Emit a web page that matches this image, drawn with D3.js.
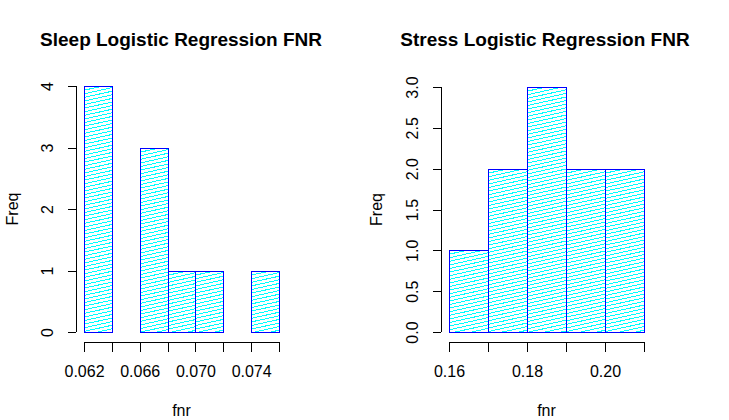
<!DOCTYPE html>
<html><head><meta charset="utf-8">
<script src="https://cdn.jsdelivr.net/npm/d3@7"></script>
<style>body{margin:0;background:#fff}svg{display:block}</style>
</head><body>
<script>
const sleepBreaks = [0.062,0.064,0.066,0.068,0.070,0.072,0.074,0.076];
const sleepCounts = [4,0,3,1,1,0,1];
const sleepXTicks = [0.062,0.064,0.066,0.068,0.070,0.072,0.074,0.076];
const sleepXLabels = ["0.062","","0.066","","0.070","","0.074",""];
const sleepYTicks = [0,1,2,3,4];
const sleepYLabels = ["0","1","2","3","4"];

const stressBreaks = [0.16,0.17,0.18,0.19,0.20,0.21];
const stressCounts = [1,2,3,2,2];
const stressXTicks = [0.16,0.17,0.18,0.19,0.20,0.21];
const stressXLabels = ["0.16","","0.18","","0.20",""];
const stressYTicks = [0,0.5,1,1.5,2,2.5,3];
const stressYLabels = ["0.0","0.5","1.0","1.5","2.0","2.5","3.0"];

const FONT = "'Liberation Sans',Arial,sans-serif";
const HATCH_GAP = 3.6, HATCH_SLOPE = 0.22;
const svg = d3.select("body").append("svg").attr("width",729).attr("height",420)
  .attr("font-family",FONT);
const defs = svg.append("defs");
let clipId = 0;

function hatchPath(x0,y0,x1,y1){
  const w = x1-x0;
  let d = "";
  for(let c = y0; c <= y1 + HATCH_SLOPE*w + HATCH_GAP; c += HATCH_GAP){
    d += `M${x0},${c}L${x1},${c - HATCH_SLOPE*w}`;
  }
  return d;
}

function panel(o){
  const g = svg.append("g");
  const x = d3.scaleLinear().domain(o.xdom).range(o.xr);
  const y = d3.scaleLinear().domain(o.ydom).range(o.yr);
  const bins = o.counts.map((c,i)=>({x0:o.breaks[i],x1:o.breaks[i+1],c}));
  const bars = bins.filter(b=>b.c>0);
  const px = v => Math.round(x(v)) + 0.5, py = v => Math.round(y(v)) + 0.5;
  bars.forEach(b=>{
    const id = "clip"+(clipId++);
    const rx = px(b.x0), rw = px(b.x1)-px(b.x0), ry = py(b.c), rh = py(0)-py(b.c);
    defs.append("clipPath").attr("id",id).append("rect")
      .attr("x",rx).attr("y",ry).attr("width",rw).attr("height",rh);
    g.append("path").attr("clip-path",`url(#${id})`)
      .attr("d",hatchPath(rx,ry,rx+rw,ry+rh))
      .attr("fill","none").attr("stroke","#00FFFF").attr("stroke-width",1)
      .attr("shape-rendering","crispEdges");
  });
  g.selectAll("rect.b").data(bars).join("rect").attr("class","b")
    .attr("x",d=>px(d.x0)).attr("width",d=>px(d.x1)-px(d.x0))
    .attr("y",d=>py(d.c)).attr("height",d=>py(0)-py(d.c))
    .attr("fill","none").attr("stroke","#0000FF").attr("stroke-width",1)
    .attr("shape-rendering","crispEdges");
  const xa = g.append("g").attr("transform",`translate(0,${o.xAxisY})`)
    .call(d3.axisBottom(x).tickValues(o.xticks).tickSize(10).tickPadding(14)
      .tickFormat((d,i)=>o.xlabels[i]));
  xa.select(".domain").attr("d",`M${x(o.xticks[0])},0H${x(o.xticks[o.xticks.length-1])}`);
  const ya = g.append("g").attr("transform",`translate(${o.yAxisX},0)`)
    .call(d3.axisLeft(y).tickValues(o.yticks).tickSize(8).tickPadding(0)
      .tickFormat((d,i)=>o.ylabels[i]));
  ya.select(".domain").attr("d",`M0,${y(o.yticks[0])}V${y(o.yticks[o.yticks.length-1])}`);
  ya.selectAll(".tick text").attr("transform","translate(-28.5,0) rotate(-90)")
    .attr("text-anchor","middle").attr("x",0).attr("dy","0.36em");
  [xa,ya].forEach(a=>{
    a.attr("font-size",16).attr("font-family",FONT);
    a.selectAll("text").attr("fill","#000");
    a.selectAll("line,path").attr("stroke","#000").attr("shape-rendering","crispEdges");
  });
  xa.selectAll(".tick text").attr("dy","0.71em");
  g.append("text").attr("x",o.titleX).attr("y",46).attr("text-anchor","middle")
    .attr("font-weight","bold").attr("font-size",19).text(o.title);
  g.append("text").attr("x",(o.xr[0]+o.xr[1])/2).attr("y",416).attr("text-anchor","middle")
    .attr("font-size",16).text("fnr");
  g.append("text").attr("transform",`translate(${o.freqX},${(o.yr[0]+o.yr[1])/2}) rotate(-90)`)
    .attr("text-anchor","middle").attr("dy","0.36em").attr("font-size",16).text("Freq");
}

panel({xdom:[0.062,0.076],xr:[84,279],ydom:[0,4],yr:[332,86],
  breaks:sleepBreaks,counts:sleepCounts,xticks:sleepXTicks,xlabels:sleepXLabels,
  yticks:sleepYTicks,ylabels:sleepYLabels,xAxisY:342,yAxisX:76,
  title:"Sleep Logistic Regression FNR",titleX:181,freqX:12});
panel({xdom:[0.16,0.21],xr:[449,644],ydom:[0,3],yr:[332,87],
  breaks:stressBreaks,counts:stressCounts,xticks:stressXTicks,xlabels:stressXLabels,
  yticks:stressYTicks,ylabels:stressYLabels,xAxisY:342,yAxisX:441,
  title:"Stress Logistic Regression FNR",titleX:545,freqX:376});
</script>
</body></html>
